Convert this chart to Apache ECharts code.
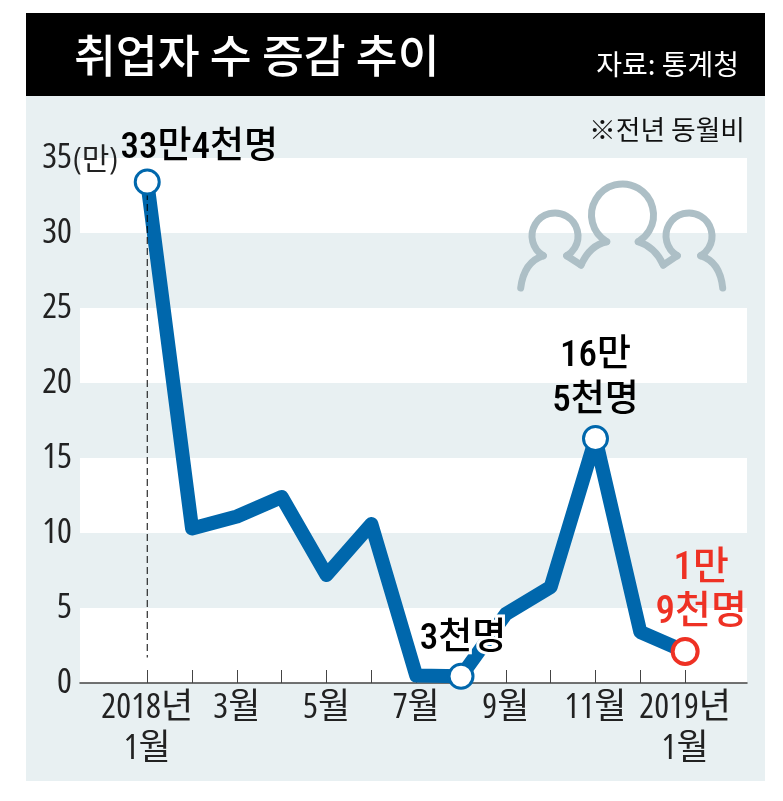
<!DOCTYPE html>
<html><head><meta charset="utf-8">
<style>html,body{margin:0;padding:0;background:#fff}#c{width:783px;height:801px}</style>
<script src="https://cdn.jsdelivr.net/npm/echarts@6/dist/echarts.min.js"></script>
</head><body><div id="c"></div>
<script>
const monthLabels = ['2018년\n1월','2월','3월','4월','5월','6월','7월','8월','9월','10월','11월','12월','2019년\n1월'];
const changeValues = [33.4,10.3,11.1,12.4,7.2,10.6,0.5,0.45,4.6,6.4,16.3,3.4,2.1];
const yTicks = [0,5,10,15,20,25,30,35];
const calloutIdx = [0,7,10,12];
const calloutText = ['33만4천명','3천명','16만\n5천명','1만\n9천명'];
const guideBottom = 1.7;

const LIGHT = "'Open Sans','Noto Sans CJK KR',sans-serif";
const FONT = "'Roboto Condensed','Noto Sans CJK KR',sans-serif";
const KR = "'Noto Sans CJK KR',sans-serif";
const BLUE = '#0067ac', RED = '#ee3124', PANEL = '#e8f0f2';
const monthIdx = monthLabels.map((_, i) => i);
const oddIdx = monthIdx.filter(i => i % 2 === 0);

const calloutStyle = [
  {offset:[52,-33], color:'#000', halo:false, lh:44, stroke:BLUE, size:37},
  {offset:[2,-37], color:'#000', halo:true, lh:44, stroke:BLUE, size:37},
  {offset:[0,-59], color:'#000', halo:false, lh:45, stroke:BLUE, size:37},
  {offset:[16,-60], color:RED, halo:false, lh:44, stroke:RED, size:39}
];

// decorative people icon
const iconStyle = {fill:'none',stroke:'#adbfc6',lineWidth:7,lineCap:'round',lineJoin:'round'};
const rad = d => d*Math.PI/180;
const head = (cx,cy,r) => ({type:'arc',z:1,shape:{cx,cy,r,startAngle:rad(120.6),endAngle:rad(59.4),clockwise:true},style:iconStyle});
const curve = (x1,y1,cpx1,cpy1,x2,y2) => ({type:'bezierCurve',z:1,shape:{x1,y1,cpx1,cpy1,x2,y2},style:iconStyle});
const seg = pts => ({type:'polyline',z:1,shape:{points:pts},style:iconStyle});
const icon = [
  head(555,236,23), head(622.5,215,31), head(689,236,23),
  curve(520.7,288,524,262,543.3,255.7),
  seg([[566.7,255.7],[581,265]]),
  curve(581,265,590,245,606.7,241.7),
  curve(638.3,241.7,655,247,663.3,265),
  seg([[663.3,265],[677.3,255.7]]),
  curve(700.7,255.7,720,262,722.7,288)
];

const chart = echarts.init(document.getElementById('c'), null, {renderer:'canvas'});
chart.setOption({
  animation:false,
  grid:{left:80,right:36,top:158,bottom:118},
  graphic:[
    {type:'rect',z:-10,shape:{x:26,y:96,width:739,height:685},style:{fill:PANEL}},
    {type:'rect',z:-9,shape:{x:26,y:13,width:739,height:83},style:{fill:'#000'}},
    {type:'text',z:10,x:74,y:56,style:{text:'취업자 수 증감 추이',fill:'#fff',font:'500 45.5px '+KR,textVerticalAlign:'middle'}},
    {type:'text',z:10,x:739,y:64,style:{text:'자료: 통계청',fill:'#fff',font:'400 28px '+KR,textAlign:'right',textVerticalAlign:'middle'}},
    {type:'text',z:10,x:745,y:130,style:{text:'※전년 동월비',fill:'#111',font:'400 26.8px '+KR,textAlign:'right',textVerticalAlign:'middle'}},
    {type:'text',z:10,x:73,y:160,style:{text:'(만)',fill:'#222',font:'condensed 400 30px '+LIGHT,textVerticalAlign:'middle'}},
    ...icon
  ],
  xAxis:{
    type:'value',min:-1.5,max:13.38,
    splitLine:{show:false},
    axisLine:{show:true,onZero:true,lineStyle:{color:'#444',width:1.5}},
    axisTick:{show:true,inside:true,length:13,customValues:monthIdx,lineStyle:{color:'#444',width:1}},
    axisLabel:{show:true,customValues:oddIdx,margin:5,color:'#222',fontStyle:'condensed',fontWeight:400,fontFamily:LIGHT,fontSize:35,lineHeight:41,verticalAlign:'top',
      formatter:v=>monthLabels[Math.round(v)]}
  },
  yAxis:{
    type:'value',min:0,max:35,interval:5,
    axisLine:{show:false},axisTick:{show:false},splitLine:{show:false},
    splitArea:{show:true,areaStyle:{color:['#fff',PANEL]}},
    axisLabel:{margin:8,color:'#222',fontStyle:'condensed',fontWeight:400,fontFamily:LIGHT,fontSize:35,padding:[3,0,0,0],
      formatter:v=>yTicks.includes(v)?String(v):''}
  },
  series:[
    {type:'line',z:3,silent:true,showSymbol:false,symbol:'none',
     data:[[0,changeValues[0]],[0,guideBottom]],
     lineStyle:{color:'#000',width:1,type:[7,4]}},
    {type:'line',z:2,silent:true,showSymbol:false,symbol:'none',
     data:changeValues.map((v,i)=>[i,v]),
     lineStyle:{color:BLUE,width:14,join:'round',cap:'butt'}},
    {type:'scatter',z:4,silent:true,symbol:'circle',
     data:calloutIdx.map((idx,k)=>{
       const s=calloutStyle[k];
       return {
         value:[idx,changeValues[idx]],
         symbolSize:k===3?25:24,
         itemStyle:{color:'#fff',borderColor:s.stroke,borderWidth:k===3?4:3,opacity:1},
         label:{show:true,position:'inside',formatter:calloutText[k],offset:s.offset,color:s.color,
           fontFamily:FONT,fontSize:s.size,fontWeight:500,lineHeight:s.lh,align:'center',verticalAlign:'middle',
           textBorderColor:s.halo?'#fff':'transparent',textBorderWidth:s.halo?6:0}
       };
     })}
  ]
});
</script></body></html>
